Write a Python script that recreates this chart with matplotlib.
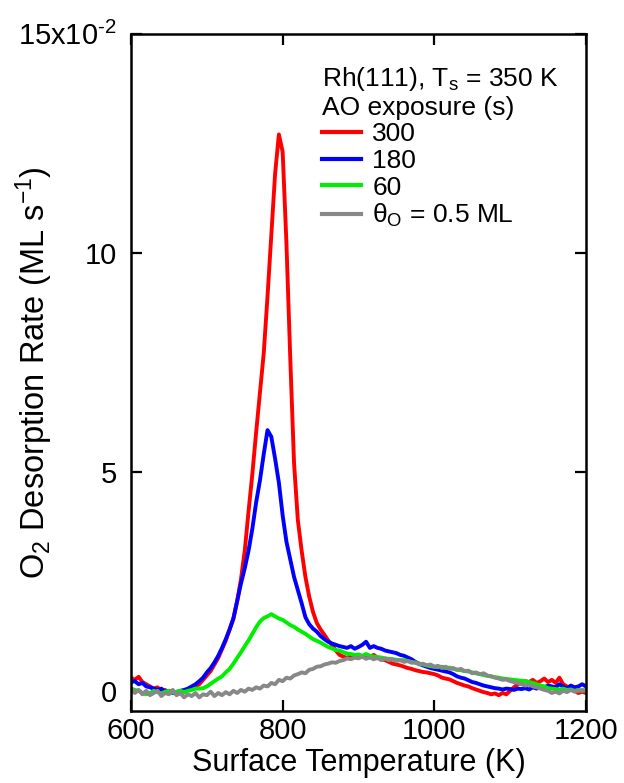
import numpy as np
import matplotlib
matplotlib.use("Agg")
import matplotlib.pyplot as plt
from matplotlib.ticker import FixedLocator

plt.rcParams['font.family'] = ['Liberation Sans', 'DejaVu Sans']
plt.rcParams['mathtext.fontset'] = 'custom'
plt.rcParams['mathtext.rm'] = 'Liberation Sans'
plt.rcParams['mathtext.it'] = 'Liberation Sans:italic'

# surface temperature grid (K), 5 K steps
temp = np.arange(600, 1201, 5)

# O2 desorption rate, units of 1e-2 ML/s
rate_300 = [
    0.30, 0.25, 0.32, 0.20, 0.15, 0.10, 0.05, 0.08, -0.02, 0.02,
    -0.05, 0.00, -0.08, -0.05, -0.03, 0.02, 0.05, 0.10, 0.15, 0.25,
    0.35, 0.45, 0.60, 0.75, 0.95, 1.15, 1.40, 1.65, 2.05, 2.55,
    3.20, 4.10, 4.95, 5.90, 6.80, 7.70, 9.00, 10.40, 11.80, 12.70,
    12.30, 10.20, 7.60, 5.20, 3.90, 3.20, 2.60, 2.15, 1.80, 1.55,
    1.40, 1.28, 1.15, 1.05, 0.92, 0.82, 0.78, 0.75, 0.80, 0.76,
    0.80, 0.78, 0.80, 0.77, 0.82, 0.76, 0.72, 0.70, 0.66, 0.62,
    0.60, 0.58, 0.55, 0.52, 0.50, 0.47, 0.45, 0.43, 0.42, 0.40,
    0.38, 0.35, 0.30, 0.28, 0.26, 0.22, 0.18, 0.15, 0.12, 0.10,
    0.06, 0.03, 0.00, -0.03, -0.05, -0.08, -0.06, -0.10, -0.05, -0.08,
    0.00, 0.08, 0.15, 0.18, 0.22, 0.20, 0.25, 0.18, 0.22, 0.28,
    0.20, 0.25, 0.18, 0.30, 0.15, 0.10, 0.05, 0.00, -0.05, -0.02,
    -0.05]

rate_180 = [
    0.20, 0.22, 0.15, 0.18, 0.10, 0.08, 0.05, 0.02, 0.05, -0.02,
    0.00, -0.05, -0.03, 0.00, 0.02, 0.05, 0.10, 0.15, 0.22, 0.30,
    0.42, 0.52, 0.65, 0.80, 0.98, 1.18, 1.40, 1.65, 2.05, 2.45,
    2.80, 3.20, 3.70, 4.30, 4.80, 5.40, 5.95, 5.80, 5.30, 4.75,
    4.00, 3.40, 3.00, 2.60, 2.30, 2.00, 1.68, 1.52, 1.42, 1.35,
    1.25, 1.18, 1.12, 1.08, 1.05, 1.02, 1.00, 0.98, 1.02, 0.96,
    1.00, 1.05, 1.12, 0.98, 1.02, 0.98, 0.96, 0.92, 0.90, 0.88,
    0.86, 0.82, 0.80, 0.76, 0.72, 0.66, 0.62, 0.58, 0.55, 0.52,
    0.50, 0.48, 0.46, 0.44, 0.42, 0.38, 0.33, 0.30, 0.28, 0.24,
    0.20, 0.18, 0.15, 0.12, 0.10, 0.08, 0.06, 0.05, 0.03, 0.05,
    0.04, 0.02, 0.05, 0.04, 0.06, 0.03, 0.08, 0.05, 0.10, 0.08,
    0.12, 0.10, 0.08, 0.15, 0.10, 0.05, 0.12, 0.08, 0.10, 0.15,
    0.10]

rate_60 = [
    0.05, 0.02, 0.00, -0.05, -0.08, -0.05, 0.00, -0.03, -0.06, -0.02,
    0.00, -0.04, -0.02, 0.00, -0.03, 0.00, 0.02, 0.05, 0.05, 0.06,
    0.10, 0.16, 0.22, 0.28, 0.33, 0.42, 0.50, 0.62, 0.75, 0.88,
    1.02, 1.15, 1.30, 1.45, 1.58, 1.66, 1.70, 1.75, 1.70, 1.65,
    1.62, 1.56, 1.50, 1.46, 1.40, 1.35, 1.30, 1.24, 1.18, 1.14,
    1.10, 1.05, 1.00, 0.97, 0.93, 0.92, 0.88, 0.85, 0.84, 0.82,
    0.83, 0.80, 0.84, 0.80, 0.78, 0.77, 0.76, 0.74, 0.73, 0.72,
    0.71, 0.70, 0.70, 0.68, 0.66, 0.64, 0.62, 0.60, 0.58, 0.56,
    0.55, 0.54, 0.55, 0.52, 0.53, 0.50, 0.48, 0.47, 0.45, 0.44,
    0.42, 0.40, 0.38, 0.36, 0.34, 0.33, 0.31, 0.30, 0.28, 0.27,
    0.26, 0.25, 0.24, 0.23, 0.22, 0.20, 0.18, 0.15, 0.12, 0.10,
    0.06, 0.05, 0.04, 0.03, 0.05, 0.02, 0.03, 0.00, 0.02, 0.00,
    0.02]

rate_half_ml = [
    0.05, -0.05, 0.02, -0.08, 0.00, -0.10, -0.05, 0.00, -0.12, -0.05,
    -0.08, 0.02, -0.10, -0.05, -0.15, -0.08, -0.12, -0.05, -0.15, -0.08,
    -0.10, -0.02, -0.12, -0.05, -0.10, -0.03, -0.08, 0.00, -0.05, 0.02,
    -0.02, 0.05, 0.02, 0.08, 0.05, 0.12, 0.10, 0.18, 0.15, 0.25,
    0.22, 0.30, 0.28, 0.35, 0.38, 0.42, 0.40, 0.48, 0.50, 0.55,
    0.56, 0.60, 0.62, 0.65, 0.64, 0.68, 0.70, 0.74, 0.72, 0.76,
    0.74, 0.78, 0.73, 0.76, 0.72, 0.75, 0.70, 0.74, 0.70, 0.72,
    0.68, 0.70, 0.66, 0.68, 0.64, 0.65, 0.60, 0.62, 0.58, 0.60,
    0.55, 0.57, 0.52, 0.55, 0.50, 0.52, 0.48, 0.50, 0.45, 0.46,
    0.40, 0.42, 0.38, 0.40, 0.35, 0.33, 0.30, 0.28, 0.25, 0.26,
    0.22, 0.20, 0.18, 0.15, 0.12, 0.14, 0.10, 0.08, 0.05, 0.02,
    0.00, -0.05, -0.02, -0.06, 0.00, -0.03, 0.02, -0.02, 0.00, 0.02,
    0.00]

series = [
    (rate_300, '300', '#ff0000'),
    (rate_180, '180', '#0000ff'),
    (rate_60, '60', '#00ee00'),
    (rate_half_ml, r'θ$_\mathrm{O}$ = 0.5 ML', '#888888'),
]

fig = plt.figure(figsize=(6.24, 7.83), dpi=100)
ax = fig.add_axes([0.21, 0.092, 0.729, 0.865])

for vals, lab, col in series:
    ax.plot(temp, np.array(vals) * 1e-2, color=col, lw=2.8, label=lab)

ax.set_xlim(600, 1200)
ax.set_ylim(-0.0046, 0.15)
ax.xaxis.set_major_locator(FixedLocator([600, 800, 1000, 1200]))
ax.set_yticks([0, 0.05, 0.10, 0.15])
ax.set_yticklabels(['0', '5', '10', r'15x10$^{\text{-}2}$'])

for s in ax.spines.values():
    s.set_linewidth(1.8)
ax.tick_params(direction='in', length=8, width=1.6, labelsize=21,
               top=True, right=True)
ax.tick_params(axis='x', pad=4)
ax.tick_params(axis='y', pad=10)

ax.set_xlabel('Surface Temperature (K)', fontsize=22)
ax.xaxis.set_label_coords(0.5, -0.0545)
ax.set_ylabel(r'O$_2$ Desorption Rate (ML s$^{-1}$)', fontsize=23.5)
ax.yaxis.set_label_coords(-0.167, 0.5)

leg = ax.legend(loc='upper left', bbox_to_anchor=(0.419, 0.954),
                title='Rh(111), T$_\\mathrm{s}$ = 350 K\nAO exposure (s)',
                fontsize=19, title_fontsize=19, frameon=False,
                handlelength=1.5, handletextpad=0.42, labelspacing=0.1,
                alignment='left', borderaxespad=0.0, borderpad=0.0)
leg.get_title().set_linespacing(1.15)
for line in leg.get_lines():
    line.set_linewidth(3)

fig.savefig('out.png', dpi=100)
